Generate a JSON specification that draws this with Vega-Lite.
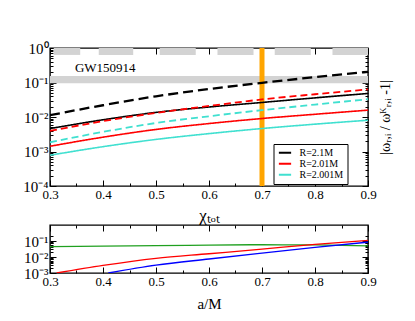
{
  "$schema": "https://vega.github.io/schema/vega-lite/v6.json",
  "background": "white",
  "padding": {"left": 22, "top": 40, "right": 5, "bottom": 5},
  "bounds": "flush",
  "spacing": 39,
  "datasets": {
    "bands": [
      {"x1": 0.307, "x2": 0.357, "y1": 0.63, "y2": 1},
      {"x1": 0.392, "x2": 0.457, "y1": 0.63, "y2": 1},
      {"x1": 0.507, "x2": 0.575, "y1": 0.63, "y2": 1},
      {"x1": 0.616, "x2": 0.684, "y1": 0.63, "y2": 1},
      {"x1": 0.724, "x2": 0.792, "y1": 0.63, "y2": 1},
      {"x1": 0.833, "x2": 0.9, "y1": 0.63, "y2": 1},
      {"x1": 0.3, "x2": 0.9, "y1": 0.095, "y2": 0.155}
    ],
    "marker": [{"x": 0.7}],
    "label": [{"x": 0.347, "y": 0.205, "text": "GW150914"}],
    "top": [
      {"x": 0.3, "y": 0.0113, "R": "R=2.1M", "style": "long dash"},
      {"x": 0.4, "y": 0.0219, "R": "R=2.1M", "style": "long dash"},
      {"x": 0.5, "y": 0.0398, "R": "R=2.1M", "style": "long dash"},
      {"x": 0.6, "y": 0.0646, "R": "R=2.1M", "style": "long dash"},
      {"x": 0.7, "y": 0.098, "R": "R=2.1M", "style": "long dash"},
      {"x": 0.8, "y": 0.143, "R": "R=2.1M", "style": "long dash"},
      {"x": 0.9, "y": 0.204, "R": "R=2.1M", "style": "long dash"},
      {"x": 0.3, "y": 0.00463, "R": "R=2.1M", "style": "solid"},
      {"x": 0.4, "y": 0.0083, "R": "R=2.1M", "style": "solid"},
      {"x": 0.5, "y": 0.0136, "R": "R=2.1M", "style": "solid"},
      {"x": 0.6, "y": 0.0195, "R": "R=2.1M", "style": "solid"},
      {"x": 0.7, "y": 0.0264, "R": "R=2.1M", "style": "solid"},
      {"x": 0.8, "y": 0.0359, "R": "R=2.1M", "style": "solid"},
      {"x": 0.9, "y": 0.0482, "R": "R=2.1M", "style": "solid"},
      {"x": 0.3, "y": 0.00394, "R": "R=2.01M", "style": "dash"},
      {"x": 0.4, "y": 0.0076, "R": "R=2.01M", "style": "dash"},
      {"x": 0.5, "y": 0.0131, "R": "R=2.01M", "style": "dash"},
      {"x": 0.6, "y": 0.0209, "R": "R=2.01M", "style": "dash"},
      {"x": 0.7, "y": 0.0323, "R": "R=2.01M", "style": "dash"},
      {"x": 0.8, "y": 0.0457, "R": "R=2.01M", "style": "dash"},
      {"x": 0.9, "y": 0.063, "R": "R=2.01M", "style": "dash"},
      {"x": 0.3, "y": 0.00142, "R": "R=2.01M", "style": "solid"},
      {"x": 0.4, "y": 0.0026, "R": "R=2.01M", "style": "solid"},
      {"x": 0.5, "y": 0.00436, "R": "R=2.01M", "style": "solid"},
      {"x": 0.6, "y": 0.00646, "R": "R=2.01M", "style": "solid"},
      {"x": 0.7, "y": 0.00904, "R": "R=2.01M", "style": "solid"},
      {"x": 0.8, "y": 0.012, "R": "R=2.01M", "style": "solid"},
      {"x": 0.9, "y": 0.0158, "R": "R=2.01M", "style": "solid"},
      {"x": 0.3, "y": 0.00185, "R": "R=2.001M", "style": "dash"},
      {"x": 0.4, "y": 0.0037, "R": "R=2.001M", "style": "dash"},
      {"x": 0.5, "y": 0.0067, "R": "R=2.001M", "style": "dash"},
      {"x": 0.6, "y": 0.0105, "R": "R=2.001M", "style": "dash"},
      {"x": 0.7, "y": 0.0158, "R": "R=2.001M", "style": "dash"},
      {"x": 0.8, "y": 0.0229, "R": "R=2.001M", "style": "dash"},
      {"x": 0.9, "y": 0.0329, "R": "R=2.001M", "style": "dash"},
      {"x": 0.3, "y": 0.00078, "R": "R=2.001M", "style": "solid"},
      {"x": 0.4, "y": 0.00138, "R": "R=2.001M", "style": "solid"},
      {"x": 0.5, "y": 0.00224, "R": "R=2.001M", "style": "solid"},
      {"x": 0.6, "y": 0.0033, "R": "R=2.001M", "style": "solid"},
      {"x": 0.7, "y": 0.00463, "R": "R=2.001M", "style": "solid"},
      {"x": 0.8, "y": 0.0062, "R": "R=2.001M", "style": "solid"},
      {"x": 0.9, "y": 0.00807, "R": "R=2.001M", "style": "solid"}
    ],
    "bottom": [
      {"x": 0.3, "y": 0.0443, "curve": "g"},
      {"x": 0.4, "y": 0.048, "curve": "g"},
      {"x": 0.5, "y": 0.0516, "curve": "g"},
      {"x": 0.6, "y": 0.0555, "curve": "g"},
      {"x": 0.7, "y": 0.0583, "curve": "g"},
      {"x": 0.8, "y": 0.0565, "curve": "g"},
      {"x": 0.9, "y": 0.0494, "curve": "g"},
      {"x": 0.3126, "y": 0.001, "curve": "r"},
      {"x": 0.4, "y": 0.003, "curve": "r"},
      {"x": 0.5, "y": 0.0083, "curve": "r"},
      {"x": 0.6, "y": 0.016, "curve": "r"},
      {"x": 0.7, "y": 0.031, "curve": "r"},
      {"x": 0.8, "y": 0.062, "curve": "r"},
      {"x": 0.9, "y": 0.11, "curve": "r"},
      {"x": 0.41, "y": 0.001, "curve": "b"},
      {"x": 0.5, "y": 0.0031, "curve": "b"},
      {"x": 0.6, "y": 0.0075, "curve": "b"},
      {"x": 0.7, "y": 0.0175, "curve": "b"},
      {"x": 0.8, "y": 0.04, "curve": "b"},
      {"x": 0.9, "y": 0.085, "curve": "b"}
    ]
  },
  "vconcat": [
    {
      "width": 318,
      "height": 138,
      "layer": [
        {
          "data": {"name": "bands"},
          "mark": {"type": "rect", "color": "#D3D3D3"},
          "encoding": {
            "x": {"field": "x1", "type": "quantitative", "scale": {"domain": [0.3, 0.9]},
              "axis": {"orient": "top", "values": [0.3,0.35,0.4,0.45,0.5,0.55,0.6,0.65,0.7,0.75,0.8,0.85,0.9], "labels": false, "title": null,
                "tickSize": {"condition": {"test": "indexof([0.3,0.4,0.5,0.6,0.7,0.8,0.9], datum.value) >= 0", "value": -6}, "value": -3}}},
            "x2": {"field": "x2"},
            "y": {"field": "y1", "type": "quantitative", "scale": {"type": "log", "domain": [0.0001, 1]},
              "axis": {"orient": "right", "values": [0.0001,0.0002,0.0003,0.0004,0.0005,0.0006,0.0007,0.0008,0.0009,0.001,0.002,0.003,0.004,0.005,0.006,0.007,0.008,0.009,0.01,0.02,0.03,0.04,0.05,0.06,0.07,0.08,0.09,0.1,0.2,0.3,0.4,0.5,0.6,0.7,0.8,0.9,1], "labels": false,
                "tickSize": {"condition": {"test": "indexof([1,0.1,0.01,0.001,0.0001], datum.value) >= 0", "value": -6}, "value": -3},
                "title": "|ωᵣ,ᵢ / ωᴷᵣ,ᵢ -1|", "titleAngle": 270, "titleFontSize": 14, "titlePadding": 24}},
            "y2": {"field": "y2"}
          }
        },
        {
          "data": {"name": "marker"},
          "mark": {"type": "rule", "color": "#FFA500", "strokeWidth": 5},
          "encoding": {"x": {"field": "x", "type": "quantitative", "axis": null}}
        },
        {
          "data": {"name": "top"},
          "mark": {"type": "line", "clip": true, "interpolate": "monotone"},
          "encoding": {
            "x": {"field": "x", "type": "quantitative",
              "axis": {"orient": "bottom", "values": [0.3,0.35,0.4,0.45,0.5,0.55,0.6,0.65,0.7,0.75,0.8,0.85,0.9],
                "labelExpr": "indexof([0.3,0.4,0.5,0.6,0.7,0.8,0.9], datum.value) >= 0 ? format(datum.value, '.1f') : ''",
                "tickSize": {"condition": {"test": "indexof([0.3,0.4,0.5,0.6,0.7,0.8,0.9], datum.value) >= 0", "value": -6}, "value": -3},
                "labelPadding": 8, "labelFontSize": 13, "labelFlush": false, "labelOverlap": false,
                "title": "χₜₒₜ", "titleFontSize": 17, "titlePadding": 3}},
            "y": {"field": "y", "type": "quantitative",
              "axis": {"orient": "left", "values": [0.0001,0.0002,0.0003,0.0004,0.0005,0.0006,0.0007,0.0008,0.0009,0.001,0.002,0.003,0.004,0.005,0.006,0.007,0.008,0.009,0.01,0.02,0.03,0.04,0.05,0.06,0.07,0.08,0.09,0.1,0.2,0.3,0.4,0.5,0.6,0.7,0.8,0.9,1],
                "labelExpr": "datum.value == 1 ? '10⁰' : datum.value == 0.1 ? '10⁻¹' : datum.value == 0.01 ? '10⁻²' : datum.value == 0.001 ? '10⁻³' : datum.value == 0.0001 ? '10⁻⁴' : ''",
                "tickSize": {"condition": {"test": "indexof([1,0.1,0.01,0.001,0.0001], datum.value) >= 0", "value": -6}, "value": -3},
                "labelPadding": 8, "labelFontSize": 15, "labelFlush": false, "labelOverlap": false, "title": null}},
            "color": {"field": "R", "type": "nominal",
              "scale": {"domain": ["R=2.1M", "R=2.01M", "R=2.001M"], "range": ["#000000", "#FF0000", "#40E0D0"]},
              "legend": {"orient": "none", "legendX": 223.5, "legendY": 96, "title": null}},
            "strokeDash": {"field": "style", "type": "nominal",
              "scale": {"domain": ["solid", "long dash", "dash"], "range": [[1, 0], [10, 5], [7, 4]]}, "legend": null},
            "strokeWidth": {"field": "style", "type": "nominal",
              "scale": {"type": "ordinal", "domain": ["solid", "long dash", "dash"], "range": [1.6, 2.3, 1.8]}, "legend": null}
          }
        },
        {
          "data": {"name": "label"},
          "mark": {"type": "text", "align": "left", "baseline": "alphabetic", "font": "Liberation Serif", "fontSize": 13, "color": "black"},
          "encoding": {
            "x": {"field": "x", "type": "quantitative", "axis": null},
            "y": {"field": "y", "type": "quantitative", "axis": null},
            "text": {"field": "text"}
          }
        }
      ],
      "resolve": {"axis": {"x": "independent", "y": "independent"}}
    },
    {
      "width": 318,
      "height": 48,
      "layer": [
        {
          "data": {"name": "bottom"},
          "mark": {"type": "line", "clip": true, "strokeWidth": 1.3, "interpolate": "monotone"},
          "encoding": {
            "x": {"field": "x", "type": "quantitative", "scale": {"domain": [0.3, 0.9]},
              "axis": {"orient": "bottom", "values": [0.3,0.35,0.4,0.45,0.5,0.55,0.6,0.65,0.7,0.75,0.8,0.85,0.9],
                "labelExpr": "indexof([0.3,0.4,0.5,0.6,0.7,0.8,0.9], datum.value) >= 0 ? format(datum.value, '.1f') : ''",
                "tickSize": {"condition": {"test": "indexof([0.3,0.4,0.5,0.6,0.7,0.8,0.9], datum.value) >= 0", "value": -6}, "value": -3},
                "labelPadding": 8, "labelFontSize": 13, "labelFlush": false, "labelOverlap": false,
                "title": "a/M", "titleFontSize": 15, "titlePadding": 5}},
            "y": {"field": "y", "type": "quantitative", "scale": {"type": "log", "domain": [0.001, 0.2]},
              "axis": {"orient": "left", "values": [0.001,0.002,0.003,0.004,0.005,0.006,0.007,0.008,0.009,0.01,0.02,0.03,0.04,0.05,0.06,0.07,0.08,0.09,0.1,0.2],
                "labelExpr": "datum.value == 0.1 ? '10⁻¹' : datum.value == 0.01 ? '10⁻²' : datum.value == 0.001 ? '10⁻³' : ''",
                "tickSize": {"condition": {"test": "indexof([0.1,0.01,0.001], datum.value) >= 0", "value": -6}, "value": -3},
                "labelPadding": 8, "labelFontSize": 15, "labelFlush": false, "labelOverlap": false, "title": null}},
            "color": {"field": "curve", "type": "nominal",
              "scale": {"domain": ["g", "r", "b"], "range": ["#20A020", "#FF0000", "#0000FF"]}, "legend": null}
          }
        },
        {
          "data": {"name": "bottom"},
          "mark": {"type": "line", "opacity": 0},
          "encoding": {
            "x": {"field": "x", "type": "quantitative",
              "axis": {"orient": "top", "values": [0.3,0.35,0.4,0.45,0.5,0.55,0.6,0.65,0.7,0.75,0.8,0.85,0.9], "labels": false, "title": null,
                "tickSize": {"condition": {"test": "indexof([0.3,0.4,0.5,0.6,0.7,0.8,0.9], datum.value) >= 0", "value": -6}, "value": -3}}},
            "y": {"field": "y", "type": "quantitative",
              "axis": {"orient": "right", "values": [0.001,0.002,0.003,0.004,0.005,0.006,0.007,0.008,0.009,0.01,0.02,0.03,0.04,0.05,0.06,0.07,0.08,0.09,0.1,0.2], "labels": false, "title": null,
                "tickSize": {"condition": {"test": "indexof([0.1,0.01,0.001], datum.value) >= 0", "value": -6}, "value": -3}}},
            "detail": {"field": "curve"}
          }
        }
      ],
      "resolve": {"axis": {"x": "independent", "y": "independent"}}
    }
  ],
  "resolve": {"scale": {"color": "independent", "x": "independent", "y": "independent", "strokeDash": "independent", "strokeWidth": "independent"}},
  "config": {
    "view": {"stroke": "#000000", "strokeWidth": 1.4},
    "axis": {"domain": false, "grid": false, "tickColor": "#000000", "tickWidth": 1, "labelFont": "Liberation Serif", "titleFont": "Liberation Serif", "labelColor": "#000000", "titleColor": "#000000", "titleFontWeight": "normal"},
    "legend": {"symbolType": "stroke", "symbolSize": 150, "symbolStrokeWidth": 2, "labelFont": "Liberation Serif", "labelFontSize": 10, "labelColor": "#000000", "strokeColor": "#000000", "fillColor": "#FFFFFF", "padding": 4, "rowPadding": 0, "labelOffset": 7, "clipHeight": 9.5, "cornerRadius": 0},
    "text": {"font": "Liberation Serif"}
  }
}
